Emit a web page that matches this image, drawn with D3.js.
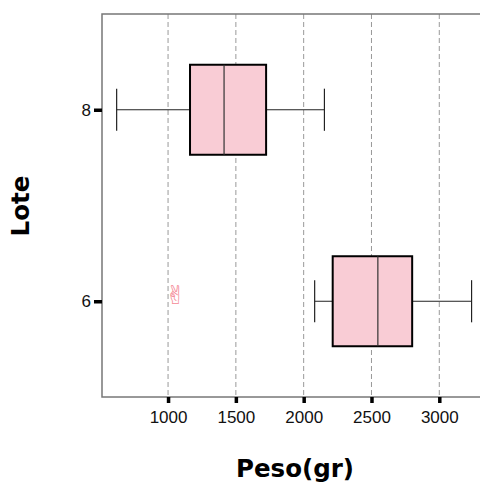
<!DOCTYPE html>
<html>
<head>
<meta charset="utf-8">
<script src="https://cdn.jsdelivr.net/npm/d3@7"></script>
<style>
  body { margin: 0; background: #fff; }
</style>
</head>
<body>
<div id="chart"></div>
<script>
// data
var lotes = ['6', '8']
var whiskerLow = [2081, 621]
var q1 = [2214, 1162]
var medians = [2547, 1413]
var q3 = [2800, 1723]
var whiskerHigh = [3238, 2153]
var outlierLote = ['6']
var outlierPeso = [1057]
var xTicks = [1000, 1500, 2000, 2500, 3000]
var yTicks = [6, 8]

var margin = { top: 14, left: 102, right: -5, bottom: 90 }
var width = 480 - margin.left - margin.right
var height = 487 - margin.top - margin.bottom

var svg = d3.select('#chart')
  .append('svg')
  .attr('width', 480)
  .attr('height', 487)
  .attr('font-family', '"Liberation Sans", Arial, sans-serif')

var g = svg.append('g')
  .attr('transform', `translate(${margin.left}, ${margin.top})`)

var xPositionScale = d3.scaleLinear().domain([513, 3337]).range([0, width])
var yPositionScale = d3.scaleLinear().domain([5, 9]).range([height, 0])

var boxHalf = 0.47
var capHalf = 0.22

// grid
g.selectAll('.grid')
  .data(xTicks)
  .enter()
  .append('line')
  .attr('x1', d => xPositionScale(d))
  .attr('x2', d => xPositionScale(d))
  .attr('y1', 0)
  .attr('y2', height)
  .attr('stroke', '#999')
  .attr('stroke-width', 1)
  .attr('stroke-dasharray', '5,3')

// panel border
g.append('rect')
  .attr('x', 0)
  .attr('y', 0)
  .attr('width', width)
  .attr('height', height)
  .attr('fill', 'none')
  .attr('stroke', '#777')
  .attr('stroke-width', 1.5)

var boxes = lotes.map((l, i) => ({
  lote: +l,
  lo: whiskerLow[i],
  q1: q1[i],
  med: medians[i],
  q3: q3[i],
  hi: whiskerHigh[i]
}))

boxes.forEach(function (d) {
  var yc = yPositionScale(d.lote)
  // whiskers
  g.append('line')
    .attr('x1', xPositionScale(d.lo)).attr('x2', xPositionScale(d.q1))
    .attr('y1', yc).attr('y2', yc)
    .attr('stroke', '#222').attr('stroke-width', 1)
  g.append('line')
    .attr('x1', xPositionScale(d.q3)).attr('x2', xPositionScale(d.hi))
    .attr('y1', yc).attr('y2', yc)
    .attr('stroke', '#222').attr('stroke-width', 1)
  ;[d.lo, d.hi].forEach(function (v) {
    g.append('line')
      .attr('x1', xPositionScale(v)).attr('x2', xPositionScale(v))
      .attr('y1', yPositionScale(d.lote + capHalf))
      .attr('y2', yPositionScale(d.lote - capHalf))
      .attr('stroke', '#222').attr('stroke-width', 1.2)
  })
  // box
  g.append('rect')
    .attr('x', xPositionScale(d.q1))
    .attr('y', yPositionScale(d.lote + boxHalf))
    .attr('width', xPositionScale(d.q3) - xPositionScale(d.q1))
    .attr('height', yPositionScale(d.lote - boxHalf) - yPositionScale(d.lote + boxHalf))
    .attr('fill', '#f9ccd5')
    .attr('stroke', '#000')
    .attr('stroke-width', 2)
  g.append('line')
    .attr('x1', xPositionScale(d.med)).attr('x2', xPositionScale(d.med))
    .attr('y1', yPositionScale(d.lote + boxHalf))
    .attr('y2', yPositionScale(d.lote - boxHalf))
    .attr('stroke', '#333').attr('stroke-width', 1.2)
})

// outlier drawn as a glyph (text presentation, not colour emoji)
g.selectAll('.outlier')
  .data(outlierPeso)
  .enter()
  .append('text')
  .attr('class', 'outlier')
  .attr('x', d => xPositionScale(d))
  .attr('y', (d, i) => yPositionScale(+outlierLote[i]))
  .attr('dy', '0.1em')
  .attr('text-anchor', 'middle')
  .attr('font-family', '"DejaVu Sans", sans-serif')
  .attr('font-size', 26)
  .attr('fill', '#f58a96')
  .text('\u270C\uFE0E')

// axes
var xAxis = d3.axisBottom(xPositionScale)
  .tickValues(xTicks)
  .tickFormat(d3.format('d'))
  .tickSize(6)
  .tickPadding(8)
var xg = g.append('g')
  .attr('class', 'axis x-axis')
  .attr('transform', `translate(0, ${height})`)
  .call(xAxis)
  .attr('font-size', 17)
  .attr('font-family', '"Liberation Sans", Arial, sans-serif')
xg.select('.domain').remove()
xg.selectAll('line').attr('stroke', '#000').attr('stroke-width', 3.5)
xg.selectAll('text').attr('fill', '#111')

var yAxis = d3.axisLeft(yPositionScale)
  .tickValues(yTicks)
  .tickFormat(d3.format('d'))
  .tickSize(8)
  .tickPadding(3)
var yg = g.append('g')
  .attr('class', 'axis y-axis')
  .call(yAxis)
  .attr('font-size', 17)
  .attr('font-family', '"Liberation Sans", Arial, sans-serif')
yg.select('.domain').remove()
yg.selectAll('line').attr('stroke', '#000').attr('stroke-width', 3.5)
yg.selectAll('text').attr('fill', '#111')

// titles
svg.append('text')
  .text('Peso(gr)')
  .attr('x', 295)
  .attr('y', 477)
  .attr('text-anchor', 'middle')
  .attr('font-family', '"DejaVu Sans", sans-serif')
  .attr('font-size', 24.5)
  .attr('font-weight', 'bold')

svg.append('text')
  .text('Lote')
  .attr('transform', 'translate(29, 206) rotate(-90)')
  .attr('text-anchor', 'middle')
  .attr('font-family', '"DejaVu Sans", sans-serif')
  .attr('font-size', 24.5)
  .attr('font-weight', 'bold')
</script>
</body>
</html>
